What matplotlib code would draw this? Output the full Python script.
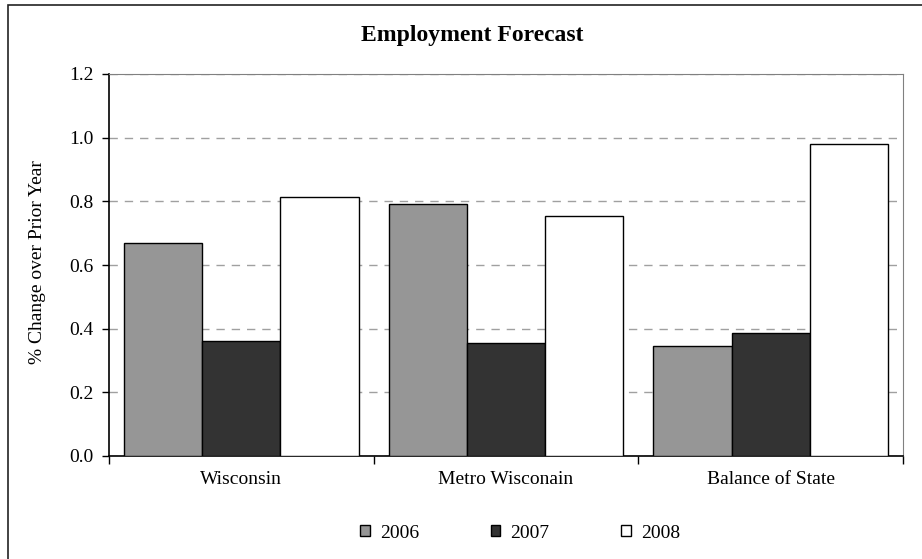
import numpy as np
import matplotlib.pyplot as plt
from matplotlib.patches import Rectangle

# Forecast values (% change over prior year)
regions = ["Wisconsin", "Metro Wisconain", "Balance of State"]
years = ["2006", "2007", "2008"]
y2006 = [0.669, 0.793, 0.347]
y2007 = [0.362, 0.356, 0.387]
y2008 = [0.814, 0.754, 0.980]

colors = ["#969696", "#333333", "#ffffff"]

plt.rcParams["font.family"] = ["Liberation Serif", "DejaVu Serif"]

fig = plt.figure(figsize=(9.22, 5.59), dpi=100)
ax = fig.add_axes([109 / 922, 1 - 456 / 559, (903 - 109) / 922, (456 - 74) / 559])

x = np.arange(len(regions))
w = 0.2956
for i, (vals, yr) in enumerate(zip([y2006, y2007, y2008], years)):
    ax.bar(x + (i - 1) * w, vals, width=w, color=colors[i], edgecolor="black",
           linewidth=1.0, label=yr, zorder=3)

ax.set_xlim(-0.5, 2.5)
ax.set_ylim(0, 1.2)
ax.set_yticks(np.arange(0, 1.21, 0.2))
ax.set_yticklabels([f"{v:.1f}" for v in np.arange(0, 1.21, 0.2)], fontsize=14)
ax.tick_params(axis="y", direction="out", length=5, width=1, pad=6)

# category labels centred, tick marks on the boundaries
ax.set_xticks(x)
ax.set_xticklabels(regions, fontsize=14)
ax.tick_params(axis="x", which="major", length=0, pad=11)
ax.set_xticks([-0.5, 0.5, 1.5, 2.5], minor=True)
ax.tick_params(axis="x", which="minor", direction="out", length=6, width=1)

ax.yaxis.grid(True, linestyle=(0, (6, 5)), color="#a0a0a0", linewidth=1, zorder=0)

ax.spines["left"].set_color("black")
ax.spines["bottom"].set_color("black")
ax.spines["left"].set_linewidth(1.2)
ax.spines["bottom"].set_linewidth(1.2)
ax.spines["top"].set_color("#808080")
ax.spines["right"].set_color("#808080")

fig.text(472 / 922, 1 - 36 / 559, "Employment Forecast", ha="center", va="center",
         fontsize=17, fontweight="bold")
fig.text(38 / 922, 1 - 262 / 559, "% Change over Prior Year", ha="center", va="center",
         rotation=90, fontsize=14)

ax.legend(loc="center", bbox_to_anchor=(520 / 922, 1 - 533 / 559),
          bbox_transform=fig.transFigure, ncol=3, frameon=False, fontsize=14,
          handlelength=0.5, handleheight=0.5, handletextpad=0.5, columnspacing=3.7)

# chart area border
fig.patches.append(Rectangle((8 / 922, -0.1), 1.2, 1 - 5 / 559 + 0.1,
                             transform=fig.transFigure, fill=False,
                             edgecolor="#222222", linewidth=1.2))

fig.savefig("out.png", dpi=100)
